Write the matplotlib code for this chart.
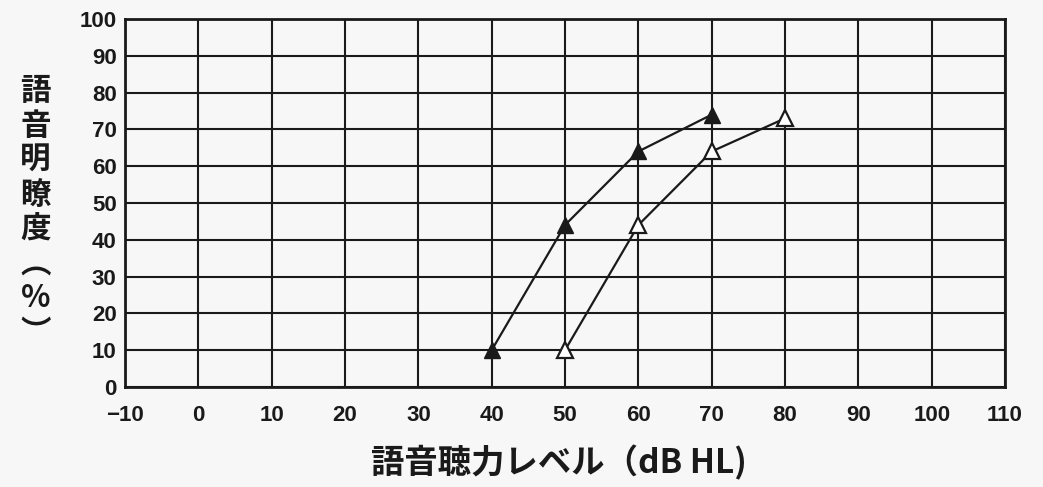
"""Speech audiogram: speech discrimination score vs speech hearing level."""

import matplotlib
matplotlib.use("Agg")
import matplotlib.pyplot as plt
import numpy as np

# data
level_filled = [40, 50, 60, 70]
score_filled = [10, 44, 64, 74]
level_open = [50, 60, 70, 80]
score_open = [10, 44, 64, 73]

x_ticks = list(range(-10, 111, 10))
y_ticks = list(range(0, 101, 10))

y_label_chars = ["語", "音", "明", "瞭", "度", "︵", "%", "︶"]
x_label = "語音聴力レベル（dB HL)"

cjk = ["Noto Sans CJK JP", "DejaVu Sans"]
num_font = ["Liberation Sans Narrow", "Liberation Sans", "DejaVu Sans"]

bg = "#f7f7f7"
ink = "#1a1a1a"

fig = plt.figure(figsize=(10.43, 4.87), dpi=100, facecolor=bg)
ax = fig.add_axes([0.1198, 0.2053, 0.8438, 0.7557])
ax.set_facecolor(bg)

ax.set_xlim(-10, 110)
ax.set_ylim(0, 100)
ax.set_xticks(x_ticks)
ax.set_yticks(y_ticks)
ax.grid(True, color=ink, linewidth=1.5)
ax.set_axisbelow(True)
for side in ax.spines.values():
    side.set_linewidth(2.0)
    side.set_color(ink)
ax.tick_params(axis="x", length=0, pad=13)
ax.tick_params(axis="y", length=0, pad=6)
for lab in ax.get_xticklabels() + ax.get_yticklabels():
    lab.set_family(num_font)
    lab.set_fontsize(16)
    lab.set_fontweight("bold")
    lab.set_color(ink)

# curves
ax.plot(level_filled, score_filled, color=ink, linewidth=1.6, marker="^",
        markersize=12, markerfacecolor=ink, markeredgecolor=ink, clip_on=False, zorder=3)
ax.plot(level_open, score_open, color=ink, linewidth=1.6, marker="^",
        markersize=12, markerfacecolor="white", markeredgecolor=ink,
        markeredgewidth=1.6, clip_on=False, zorder=3)

# vertical y label (one character per line)
fig.text(0.034, 0.565, "\n".join(y_label_chars), family=cjk, fontsize=22,
         fontweight="bold", ha="center", va="center", linespacing=1.1, color=ink)

fig.text(0.536, 0.05, x_label, family=cjk, fontsize=24, fontweight="bold",
         ha="center", va="center", color=ink)

plt.savefig("out.png", dpi=100, facecolor=bg)
